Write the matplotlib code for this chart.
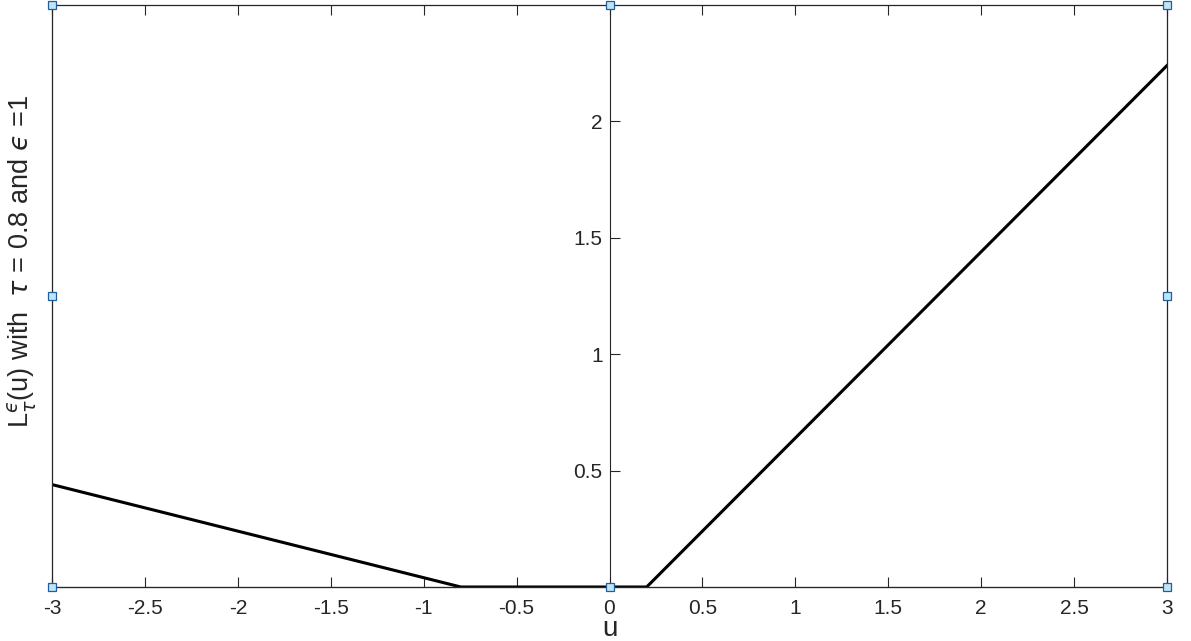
import matplotlib
matplotlib.use("Agg")
import matplotlib.pyplot as plt
from matplotlib.patches import Rectangle

plt.rcParams['font.family'] = ['Liberation Sans', 'DejaVu Sans']
plt.rcParams['mathtext.fontset'] = 'dejavusans'

# Data: epsilon-insensitive check loss, tau = 0.8, eps = 1
u = [-3, -0.8, 0.2, 3]
loss = [0.44, 0, 0, 2.24]
xticks = [-3, -2.5, -2, -1.5, -1, -0.5, 0, 0.5, 1, 1.5, 2, 2.5, 3]
yticks = [0.5, 1, 1.5, 2]

dark = '#262626'

fig = plt.figure(figsize=(11.91, 6.41), dpi=100)
ax = fig.add_axes([52/1191, 54/641, 1115/1191, 582/641])

ax.plot(u, loss, color='black', lw=2.2, solid_joinstyle='miter')

ax.set_xlim(-3, 3)
ax.set_ylim(0, 2.5)

# y axis through the origin, box drawn separately
for s in ['top', 'right']:
    ax.spines[s].set_visible(False)
ax.spines['left'].set_position(('data', 0))
ax.spines['left'].set_color(dark)
ax.spines['bottom'].set_color(dark)
ax.add_patch(Rectangle((0, 0), 1, 1, transform=ax.transAxes, fill=False,
                       ec=dark, lw=0.9, clip_on=False, zorder=3))

ax.set_xticks(xticks)
ax.set_xticklabels(['%g' % t for t in xticks])
ax.set_yticks(yticks)
ax.set_yticklabels(['%g' % t for t in yticks])
ax.tick_params(axis='x', direction='in', top=True, length=7, width=0.8,
               colors=dark, labelsize=15, pad=9)
ax.tick_params(axis='y', direction='in', length=7, width=0.8,
               colors=dark, labelsize=15, pad=5)

ax.set_xlabel('u', fontsize=20, color=dark, labelpad=-2)
ax.set_ylabel('L$^{\u03f5}_{\\tau}$(u) with  $\\tau$ = 0.8 and $\u03f5$ =1',
              fontsize=19.5, color=dark)
ax.yaxis.set_label_coords(-0.012, 0.56)

# selection handles
hx = [0, 0.5, 1, 0, 1, 0, 0.5, 1]
hy = [0, 0, 0, 0.5, 0.5, 1, 1, 1]
ax.plot(hx, hy, ls='none', marker='s', ms=6, mfc='#bfe4fa', mec='#1f5f9a',
        mew=0.9, transform=ax.transAxes, clip_on=False, zorder=5)

fig.savefig('out.png', dpi=100)
